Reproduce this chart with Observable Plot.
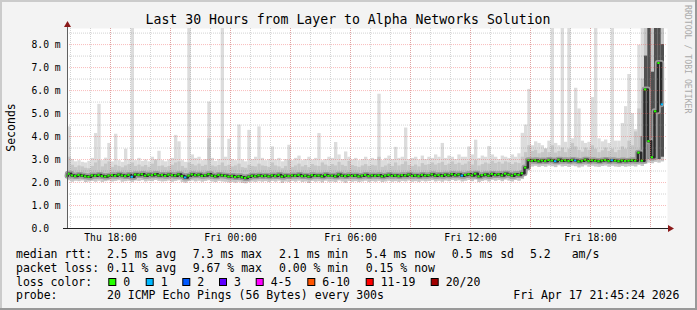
<!DOCTYPE html>
<html><head><meta charset="utf-8">
<script src="https://cdn.jsdelivr.net/npm/d3@7"></script>
<script src="https://cdn.jsdelivr.net/npm/@observablehq/plot@0.6"></script>
<style>
html,body{margin:0;padding:0;background:#f3f3f3;}
#chart svg{display:block;}
</style></head><body><div id="chart"></div>
<script>
// ---- data (ms), one value per 10-minute step starting Thu 15:42 UTC ----
const firstStep = Date.UTC(2026, 3, 16, 15, 42);
const stepMs = 10 * 60 * 1000;
const median = [
2.30,2.38,2.31,2.28,2.33,2.30,2.27,2.25,2.31,2.29,
2.33,2.28,2.26,2.30,2.32,2.29,2.34,2.31,2.28,2.33,
2.25,2.35,2.33,2.36,2.30,2.34,2.32,2.36,2.31,2.33,
2.29,2.34,2.32,2.30,2.35,2.28,2.22,2.30,2.35,2.32,
2.34,2.29,2.31,2.36,2.30,2.27,2.33,2.31,2.29,2.26,
2.28,2.24,2.27,2.23,2.20,2.25,2.29,2.27,2.31,2.28,
2.30,2.27,2.31,2.28,2.33,2.26,2.30,2.28,2.31,2.29,
2.33,2.28,2.30,2.26,2.32,2.29,2.31,2.27,2.33,2.29,
2.30,2.27,2.34,2.30,2.28,2.32,2.29,2.31,2.27,2.30,
2.33,2.28,2.31,2.29,2.32,2.27,2.30,2.33,2.29,2.31,
2.28,2.32,2.30,2.34,2.29,2.31,2.28,2.33,2.30,2.32,
2.35,2.30,2.33,2.29,2.34,2.31,2.36,2.32,2.35,2.30,
2.33,2.36,2.31,2.38,2.27,2.32,2.35,2.30,2.37,2.33,
2.36,2.31,2.38,2.34,2.30,2.36,2.33,2.40,2.65,2.97,
2.95,2.97,2.93,2.96,2.94,2.98,2.96,2.93,2.99,2.95,
2.97,2.94,2.98,2.96,2.92,2.95,2.99,2.94,2.97,2.95,
2.93,2.96,2.98,2.94,2.97,2.95,2.93,2.96,2.94,2.95,
2.97,2.95,3.30,2.95,6.05,3.80,3.10,5.10,7.20,5.40];
const pingMin = [
2.05,2.08,2.02,2.06,2.04,2.07,2.00,2.03,2.05,2.02,
2.06,2.01,2.04,2.07,2.03,2.05,2.08,2.02,2.04,2.06,
2.01,2.07,2.05,2.08,2.03,2.06,2.04,2.09,2.05,2.03,
2.04,2.07,2.02,2.05,2.08,2.01,1.98,2.04,2.07,2.03,
2.06,2.02,2.05,2.08,2.03,2.00,2.05,2.03,2.02,1.99,
2.01,1.98,2.02,1.97,1.95,2.00,2.03,2.01,2.04,2.02,
2.04,2.00,2.05,2.02,2.06,1.97,2.03,2.01,2.05,2.02,
2.06,2.01,2.03,1.96,2.05,2.02,2.04,1.99,2.06,2.02,
2.03,2.00,2.07,2.03,1.98,2.05,2.02,2.04,2.00,2.03,
2.06,2.01,2.04,2.02,2.05,2.00,2.03,2.06,2.02,2.04,
2.01,2.05,2.03,2.07,2.02,2.04,2.01,2.06,2.03,2.05,
2.08,2.03,2.06,2.02,2.07,2.04,2.09,2.05,2.08,2.03,
2.06,2.09,2.04,2.11,2.00,2.05,2.08,2.03,2.10,2.06,
2.09,2.04,2.11,2.07,2.03,2.09,2.06,2.13,2.40,2.70,
2.68,2.71,2.66,2.70,2.67,2.72,2.69,2.65,2.73,2.68,
2.70,2.66,2.72,2.69,2.64,2.68,2.73,2.67,2.71,2.68,
2.66,2.70,2.72,2.67,2.71,2.68,2.66,2.70,2.67,2.69,
2.71,2.68,2.75,2.70,2.80,2.85,2.82,2.88,2.85,2.90];
const pingQ90 = [
2.70,3.10,2.75,2.65,2.72,2.68,2.62,2.60,2.70,2.85,
2.95,2.68,2.80,2.90,2.66,2.75,2.70,2.64,2.72,2.78,
2.85,2.70,2.76,2.68,2.74,2.66,2.80,2.95,2.70,2.72,
2.65,2.70,2.75,2.85,2.90,2.70,2.62,2.85,2.78,2.72,
2.80,2.70,2.75,3.90,2.72,2.68,2.74,2.85,2.70,2.75,
2.68,2.72,2.80,2.65,2.62,2.75,2.70,2.68,2.80,2.72,
2.70,2.66,2.85,2.72,2.68,2.60,2.70,2.95,2.66,2.72,
2.80,2.68,2.74,2.65,2.78,2.72,2.70,2.85,2.76,2.70,
2.78,2.72,2.88,2.75,2.70,2.92,2.74,2.70,2.66,2.72,
2.78,2.70,2.75,2.72,3.10,2.66,2.72,2.80,2.70,2.85,
2.72,2.78,2.90,2.74,2.70,2.76,2.68,2.82,2.75,2.78,
2.85,2.76,2.82,2.88,2.74,2.80,2.90,2.78,2.84,2.75,
2.80,2.90,2.76,2.95,2.72,2.78,2.85,2.80,2.92,2.82,
2.88,2.80,2.90,2.85,2.78,2.86,2.82,3.10,3.30,3.60,
3.35,3.40,3.25,3.30,3.45,3.30,3.60,3.28,3.35,3.50,
3.30,3.45,3.70,3.55,3.40,3.32,3.50,3.40,3.60,3.45,
3.30,3.38,3.50,3.35,3.45,3.30,3.40,3.55,3.45,3.80,
3.60,4.20,5.20,6.50,8.80,8.80,8.80,8.80,8.80,8.80];
const pingMax = [
2.95,4.42,3.00,2.90,2.95,2.88,2.85,2.92,3.05,4.13,
5.40,2.95,3.06,3.70,2.90,4.10,2.95,2.88,3.45,3.00,
8.80,2.95,3.05,2.92,2.98,2.90,3.10,3.00,3.36,2.95,
2.90,2.98,3.05,4.05,3.77,2.95,2.88,8.80,3.20,3.05,
3.10,2.95,3.00,5.50,3.05,2.92,3.00,8.80,3.10,3.88,
3.00,2.95,4.50,2.98,2.90,4.27,3.00,3.10,4.42,3.05,
2.95,3.00,3.55,2.98,3.05,2.90,3.00,3.62,2.95,3.05,
3.15,2.95,3.00,3.10,2.98,3.05,4.13,2.95,3.00,3.10,
3.05,3.74,3.20,3.00,3.33,3.10,2.98,3.05,2.95,3.00,
3.10,2.98,3.05,3.00,5.84,2.95,3.05,3.15,3.00,3.53,
3.05,3.10,4.37,3.00,3.05,3.10,2.98,3.15,3.00,3.10,
3.05,3.20,3.10,3.70,3.05,3.15,3.10,3.00,3.20,3.10,
3.10,3.55,3.20,3.84,3.05,3.15,3.10,3.57,3.20,3.10,
3.00,3.15,3.10,3.05,3.20,3.10,3.25,4.14,4.50,6.05,
3.60,3.77,3.70,3.60,3.47,3.80,8.80,3.70,3.60,8.80,
3.75,8.80,3.90,6.10,5.20,3.80,3.70,3.75,5.70,8.80,
3.90,3.77,3.85,3.70,8.80,3.80,3.80,4.57,5.30,6.70,
5.00,4.30,7.97,8.80,8.80,8.80,8.80,8.80,8.80,8.80];
const lossSteps = [20, 36, 119, 147, 153, 164, 179];   // steps with 1/20 lost
const tailSteps = [173, 174, 175, 176, 177, 178, 179];
const tailLo = [3.00, 3.40, 3.00, 2.95, 3.10, 3.00, 3.10];
const tailHi = [4.00, 7.50, 8.80, 6.80, 8.80, 8.80, 8.00];

const yTicks = [0, 1, 2, 3, 4, 5, 6, 7, 8];
const yTickLabels = ["0.0", "1.0 m", "2.0 m", "3.0 m", "4.0 m", "5.0 m", "6.0 m", "7.0 m", "8.0 m"];
const yMajorGrid = [1, 2, 3, 4, 5, 6, 7, 8];
const yMinorGrid = [0.5, 1.5, 2.5, 3.5, 4.5, 5.5, 6.5, 7.5, 8.5];
const xTicks = [Date.UTC(2026,3,16,18), Date.UTC(2026,3,17,0), Date.UTC(2026,3,17,6), Date.UTC(2026,3,17,12), Date.UTC(2026,3,17,18)];
const xTickLabels = ["Thu 18:00", "Fri 00:00", "Fri 06:00", "Fri 12:00", "Fri 18:00"];

const title = "Last 30 Hours from Layer to Alpha Networks Solution";
const yLabel = "Seconds";
const rttLabel = "median rtt:";
const rttValues = ["2.5 ms avg", "7.3 ms max", "2.1 ms min", "5.4 ms now", "0.5 ms sd", "5.2", "am/s"];
const lossLabel = "packet loss:";
const lossValues = ["0.11 % avg", "9.67 % max", "0.00 % min", "0.15 % now"];
const colorLabel = "loss color:";
const lossLegend = ["0", "1", "2", "3", "4-5", "6-10", "11-19", "20/20"];
const lossColors = ["#26ff00", "#00b8ff", "#0059ff", "#5e00ff", "#ff00ff", "#ff5500", "#ff0000", "#a10000"];
const probeLabel = "probe:";
const probeText = "20 ICMP Echo Pings (56 Bytes) every 300s";
const stampText = "Fri Apr 17 21:45:24 2026";
const creditText = "RRDTOOL / TOBI OETIKER";

// ---- build ----
const yTop = 8.7;
const xStart = new Date(Date.UTC(2026, 3, 16, 15, 51));
const xEnd = new Date(Date.UTC(2026, 3, 17, 21, 51));
const cap = v => Math.min(v, yTop);
const steps = median.map((m, i) => ({
  t0: new Date(Math.max(+xStart, firstStep + i * stepMs)),
  t1: new Date(firstStep + (i + 1) * stepMs),
  med: cap(m), lo: pingMin[i], q90: cap(pingQ90[i]), max: cap(pingMax[i]),
  loss: lossSteps.includes(i) ? 1 : 0
}));
const tail = tailSteps.map((s, k) => ({
  t0: new Date(firstStep + s * stepMs), t1: new Date(firstStep + (s + 1) * stepMs),
  lo: tailLo[k], hi: cap(tailHi[k])
}));
const hourGrid = d3.utcHour.range(xStart, xEnd);
const threeHourGrid = d3.utcHour.every(3).range(xStart, xEnd);
const font = "'DejaVu Sans Mono', monospace";

const plot = Plot.plot({
  width: 697, height: 310,
  marginLeft: 67, marginRight: 30, marginTop: 28, marginBottom: 82,
  style: {background: "#f3f3f3", fontFamily: font, fontSize: "9.7px", color: "#000"},
  x: {type: "utc", domain: [xStart, xEnd], label: null},
  y: {domain: [0, yTop], label: null},
  marks: [
    Plot.frame({fill: "white"}),
    Plot.rect(steps, {x1: "t0", x2: "t1", y1: "lo", y2: "max", fill: "#dcdcdc"}),
    Plot.rect(steps, {x1: "t0", x2: "t1", y1: "lo", y2: "q90", fill: "#c6c6c6"}),
    Plot.rect(tail, {x1: "t0", x2: "t1", y1: "lo", y2: "hi", fill: "#505050"}),
    Plot.line(steps, {x: "t0", y: "med", curve: "step-after", stroke: "#9c9c9c", strokeWidth: 6}),
    Plot.line(steps, {x: "t0", y: "med", curve: "step-after", stroke: "#2a2a2a", strokeWidth: 2.5}),
    Plot.ruleY(steps, {x1: "t0", x2: "t1", y: "med", stroke: d => d.loss ? lossColors[1] : lossColors[0], strokeWidth: 2, insetRight: 1}),
    Plot.gridX({ticks: hourGrid, stroke: "#808080", strokeOpacity: 0.35, strokeDasharray: "1,1"}),
    Plot.gridX({ticks: threeHourGrid, stroke: "#f05050", strokeOpacity: 0.38, strokeDasharray: "1,1"}),
    Plot.gridY({ticks: yMinorGrid, stroke: "#808080", strokeOpacity: 0.35, strokeDasharray: "1,1"}),
    Plot.gridY({ticks: yMajorGrid, stroke: "#f05050", strokeOpacity: 0.38, strokeDasharray: "1,1"}),
    Plot.ruleY([0], {stroke: "#202020", insetLeft: -4, insetRight: -2}),
    Plot.ruleX([xStart], {stroke: "#606060", insetTop: -2}),
    Plot.axisX({ticks: xTicks.map(t => new Date(t)), tickFormat: d => xTickLabels[xTicks.indexOf(+d)], tickSize: 0, tickPadding: 6, label: null}),
    Plot.axisY({ticks: yTicks, tickFormat: d => yTickLabels[yTicks.indexOf(d)], tickSize: 0, tickPadding: 0, textAnchor: "start", dx: -36, label: null})
  ]
});
document.getElementById("chart").appendChild(plot);

// ---- decorations: frame, arrows, title, footer ----
const svg = d3.select(plot);
const W = 697, H = 310;
svg.append("rect").attr("x", 0).attr("y", 0).attr("width", W).attr("height", 2).attr("fill", "#cbcbcb");
svg.append("rect").attr("x", 0).attr("y", 0).attr("width", 2).attr("height", H).attr("fill", "#cbcbcb");
svg.append("rect").attr("x", W - 2).attr("y", 0).attr("width", 2).attr("height", H).attr("fill", "#999999");
svg.append("rect").attr("x", 0).attr("y", H - 2).attr("width", W).attr("height", 2).attr("fill", "#999999");

const x0 = 67.5, y0 = 228.5, xR = 667;
svg.append("path").attr("d", `M${x0 - 3.5},${27} L${x0},${21} L${x0 + 3.5},${27} Z`).attr("fill", "#8b1a1a");
svg.append("path").attr("d", `M${xR + 1},${y0 - 3.5} L${xR + 7},${y0} L${xR + 1},${y0 + 3.5} Z`).attr("fill", "#8b1a1a");

const txt = (s, x, y, size, opts = {}) => {
  const t = svg.append("text").attr("x", x).attr("y", y).attr("font-family", font)
    .attr("font-size", size).attr("fill", opts.fill || "#000")
    .attr("text-anchor", opts.anchor || "start").text(s);
  if (opts.transform) t.attr("transform", opts.transform);
  return t;
};
txt(title, 348, 23.5, "13.2px", {anchor: "middle"});
txt(yLabel, 0, 0, "11.5px", {anchor: "middle", transform: "translate(14.5,127.5) rotate(-90)"});
txt(creditText, 0, 0, "8.2px", {fill: "#aaaaaa", transform: "translate(684.5,5) rotate(90)"});

const fs = "11.5px";
const colX = [107, 192.7, 279, 365.7, 451.7, 530, 571.7];
const rows = [258, 271.5, 285.5, 299];
txt(rttLabel, 16, rows[0], fs);
rttValues.forEach((s, i) => txt(s, colX[i], rows[0], fs));
txt(lossLabel, 16, rows[1], fs);
lossValues.forEach((s, i) => txt(s, colX[i], rows[1], fs));
txt(colorLabel, 16, rows[2], fs);
const sqX = [108.3, 145.7, 182.3, 219, 255.7, 307.3, 365.7, 430.7];
lossLegend.forEach((s, i) => {
  svg.append("rect").attr("x", sqX[i] + 0.5).attr("y", 278.5).attr("width", 7).attr("height", 7)
    .attr("fill", lossColors[i]).attr("stroke", "#000").attr("stroke-width", 1);
  txt(s, sqX[i] + 15, rows[2], fs);
});
txt(probeLabel, 16, rows[3], fs);
txt(probeText, 107, rows[3], fs);
txt(stampText, 513.3, rows[3], fs);
</script></body></html>
